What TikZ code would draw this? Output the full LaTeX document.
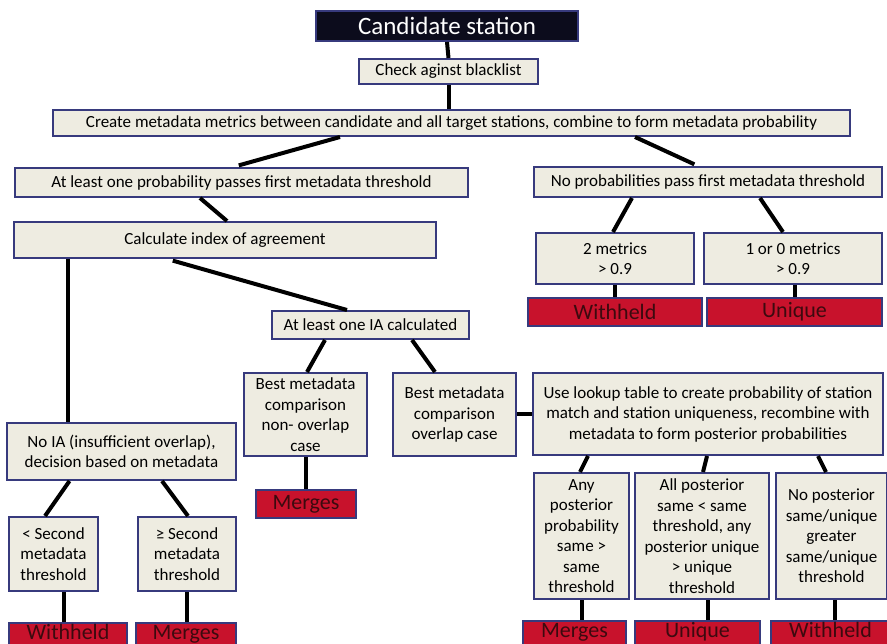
\documentclass[tikz,border=0pt]{standalone}
\usepackage{fontspec}
\setmainfont{Carlito}
\definecolor{boxfill}{RGB}{238,236,225}
\definecolor{boxline}{RGB}{55,58,125}
\definecolor{outred}{RGB}{200,18,44}
\definecolor{outtext}{RGB}{60,10,15}
\definecolor{headfill}{RGB}{12,12,28}
\begin{document}
\begin{tikzpicture}[x=1pt,y=-1pt,
	box/.style={draw=boxline,fill=boxfill,line width=2pt,inner sep=0pt,align=center,
		font=\fontsize{17}{20.5}\selectfont},
	outcome/.style={draw=boxline,fill=outred,line width=2pt,inner sep=0pt,minimum height=28pt,
		text=outtext,font=\fontsize{22}{24}\selectfont},
	lastrow/.style={outcome,text depth=9pt,text height=13pt},
	link/.style={line width=4pt,black}]
		\useasboundingbox (0,0) rectangle (887,644);
		\clip (0,0) rectangle (887,644);
		\node [box,fill=headfill,text=white,minimum width=262pt,minimum height=30pt,
			font=\fontsize{25}{28}\selectfont] (cand) at (447,26) {Candidate station};
		\node [box,minimum width=179pt,minimum height=25pt] (check) at (448.5,71.5) {Check aginst blacklist};
		\node [box,minimum width=797pt,minimum height=26pt] (create) at (451.5,123) {Create metadata metrics between candidate and all target stations, combine to form metadata probability};
		\node [box,minimum width=453pt,minimum height=29pt] (pass) at (241.5,182.5) {At least one probability passes first metadata threshold};
		\node [box,minimum width=348pt,minimum height=30pt] (nopass) at (708,182) {No probabilities pass first metadata threshold};
		\node [box,minimum width=422pt,minimum height=36pt] (calc) at (225,240) {Calculate index of agreement};
		\node [box,minimum width=158pt,minimum height=51pt] (twomet) at (615,258.5) {2 metrics\\ > 0.9};
		\node [box,minimum width=178pt,minimum height=51pt] (onemet) at (793,258.5) {1 or 0 metrics\\ > 0.9};
		\node [outcome,minimum width=174pt] (withA) at (615,312) {Withheld};
		\node [outcome,minimum width=175pt] (uniqA) at (794.5,312) {Unique};
		\node [box,minimum width=197pt,minimum height=28pt] (ia) at (370.5,325) {At least one IA calculated};
		\node [box,minimum width=123pt,minimum height=83pt] (nonov) at (305.5,414.5) {Best metadata\\ comparison\\ non- overlap\\ case};
		\node [box,minimum width=123pt,minimum height=83pt] (ov) at (454.5,414.5) {Best metadata\\ comparison\\ overlap case};
		\node [box,minimum width=350pt,minimum height=82pt] (lookup) at (708,414) {Use lookup table to create probability of station\\ match and station uniqueness, recombine with\\ metadata to form posterior probabilities};
		\node [outcome,minimum width=100pt] (mergA) at (306,504) {Merges};
		\node [box,minimum width=229pt,minimum height=57pt] (noia) at (121.5,451.5) {No IA (insufficient overlap),\\ decision based on metadata};
		\node [box,minimum width=89pt,minimum height=74pt] (below) at (53.5,554) {< Second\\ metadata\\ threshold};
		\node [box,minimum width=98pt,minimum height=74pt] (above) at (187,554) {≥ Second\\ metadata\\ threshold};
		\node [lastrow,minimum width=118pt,anchor=north] (withB) at (68,622) {Withheld};
		\node [lastrow,minimum width=100pt,anchor=north] (mergB) at (186,622) {Merges};
		\node [box,minimum width=95pt,minimum height=126pt] (anypost) at (581.5,536) {Any\\ posterior\\ probability\\ same >\\ same\\ threshold};
		\node [box,minimum width=134pt,minimum height=126pt] (allpost) at (702,536) {All posterior\\ same < same\\ threshold, any\\ posterior unique\\ > unique\\ threshold};
		\node [box,minimum width=111pt,minimum height=126pt] (nopost) at (831.5,536) {No posterior\\ same/unique\\ greater\\ same/unique\\ threshold};
		\node [lastrow,minimum width=103pt,anchor=north] (mergC) at (574.5,620) {Merges};
		\node [lastrow,minimum width=125pt,anchor=north] (uniqC) at (697.5,620) {Unique};
		\node [lastrow,minimum width=119pt,anchor=north] (withC) at (830.5,620) {Withheld};
		\draw [link] (cand.south) -- (check.north);
		\draw [link] (check.south) -- (check.south |- create.north);
		\draw [link,shorten >=6pt] ([xshift=-111.5pt]create.south) -- ([xshift=-8.5pt]pass.north);
		\draw [link,shorten >=4pt] ([xshift=183.5pt]create.south) -- ([xshift=-10pt]nopass.north);
		\draw [link] ([xshift=-41.5pt]pass.south) -- ([xshift=2pt]calc.north);
		\draw [link,shorten <=6pt] ([xshift=-58pt]calc.south) -- ([xshift=-23.5pt]ia.north);
		\draw [link] ([xshift=-157pt]calc.south) -- ([xshift=-53.5pt]noia.north);
		\draw [link] ([xshift=-76pt]nopass.south) -- ([xshift=-2pt]twomet.north);
		\draw [link] ([xshift=52pt]nopass.south) -- ([xshift=-10pt]onemet.north);
		\draw [link] (twomet.south) -- (withA.north);
		\draw [link] (uniqA.north |- onemet.south) -- (uniqA.north);
		\draw [link] ([xshift=-45.5pt]ia.south) -- ([xshift=1.5pt]nonov.north);
		\draw [link] ([xshift=41.5pt]ia.south) -- ([xshift=-19.5pt]ov.north);
		\draw [link] (ov.east) -- (lookup.west |- ov.east);
		\draw [link] (nonov.south) -- (nonov.south |- mergA.north);
		\draw [link] ([xshift=-120pt]lookup.south) -- ([xshift=-1.5pt]anypost.north);
		\draw [link] ([xshift=-1pt]lookup.south) -- ([xshift=1pt]allpost.north);
		\draw [link] ([xshift=110pt]lookup.south) -- ([xshift=-5.5pt]nopost.north);
		\draw [link] (anypost.south) -- (anypost.south |- mergC.north);
		\draw [link] ([xshift=6pt]allpost.south) -- ([xshift=10.5pt]uniqC.north);
		\draw [link] ([xshift=3.5pt]nopost.south) -- ([xshift=4.5pt]withC.north);
		\draw [link] ([xshift=-52pt]noia.south) -- ([xshift=-8.5pt]below.north);
		\draw [link] ([xshift=40.5pt]noia.south) -- ([xshift=1pt]above.north);
		\draw [link] ([xshift=10.5pt]below.south) -- ([xshift=-4pt]withB.north);
		\draw [link] (above.south) -- ([xshift=1pt]mergB.north);
	\end{tikzpicture}
\end{document}
